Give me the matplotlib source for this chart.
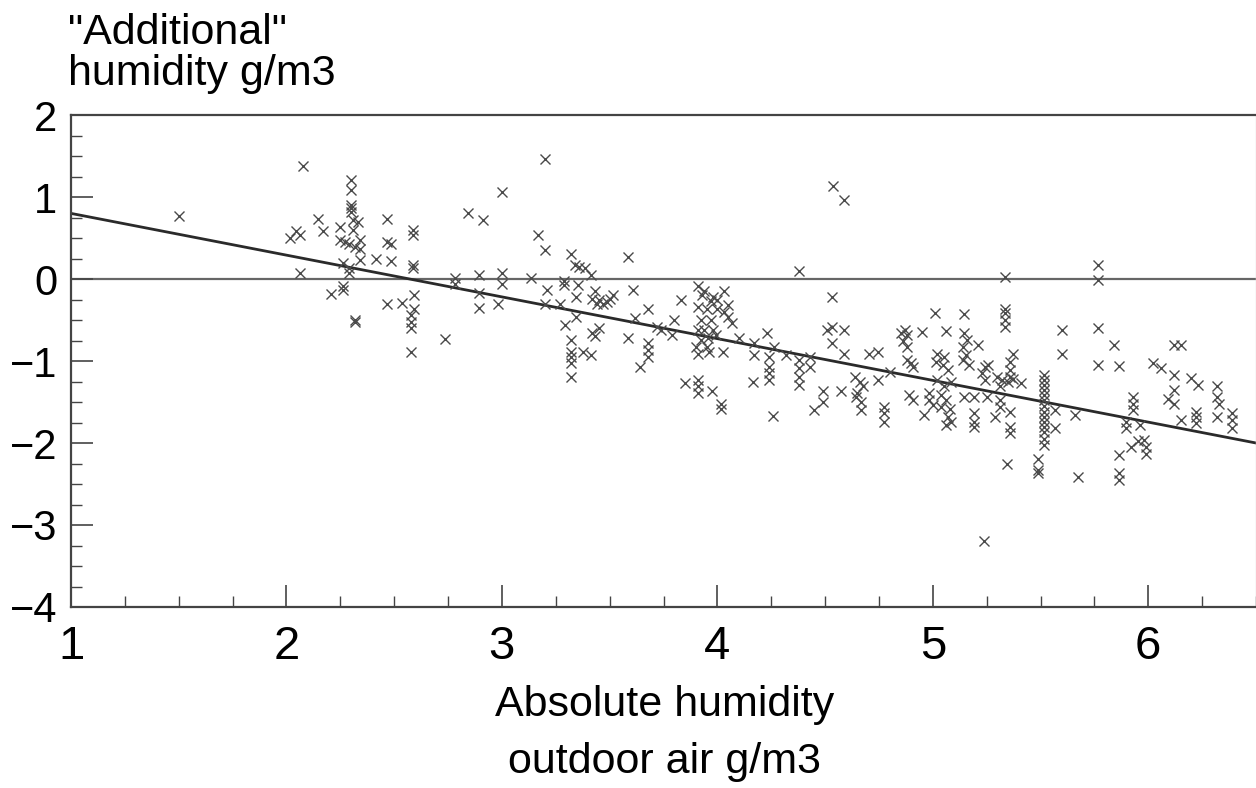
import matplotlib
matplotlib.use("Agg")
import matplotlib.pyplot as plt
from matplotlib.ticker import MultipleLocator

plt.rcParams['font.family'] = ['Liberation Sans', 'DejaVu Sans']

# ---- data ----
points = [
    # x < 3.3
    (1.50, 0.77),
    (2.015, 0.50), (2.046, 0.58), (2.061, 0.54), (2.061, 0.07), (2.077, 1.38),
    (2.146, 0.73), (2.169, 0.59), (2.208, -0.18),
    (2.247, 0.63), (2.247, 0.48), (2.27, 0.45), (2.262, 0.19), (2.262, -0.09), (2.262, -0.13),
    (2.30, 1.21), (2.30, 1.09), (2.30, 0.90), (2.30, 0.86), (2.30, 0.82),
    (2.31, 0.72), (2.33, 0.70), (2.31, 0.60),
    (2.29, 0.43), (2.32, 0.39), (2.34, 0.48), (2.34, 0.37), (2.34, 0.23),
    (2.29, 0.13), (2.29, 0.07), (2.319, -0.50), (2.319, -0.53),
    (2.417, 0.24), (2.468, 0.73), (2.468, 0.45), (2.486, 0.43), (2.486, 0.22),
    (2.468, -0.30), (2.536, -0.29),
    (2.587, 0.60), (2.587, 0.54), (2.587, 0.17), (2.587, 0.13), (2.59, -0.20),
    (2.59, -0.36), (2.58, -0.44), (2.58, -0.52), (2.58, -0.60), (2.58, -0.89),
    (2.734, -0.73), (2.783, 0.01), (2.783, -0.06),
    (2.842, 0.81), (2.912, 0.72), (2.892, 0.05), (2.892, -0.17), (2.892, -0.35),
    (3.00, 1.06), (3.00, 0.07), (3.00, -0.06), (2.98, -0.30),
    (3.136, 0.01), (3.198, 1.46), (3.167, 0.54), (3.198, 0.35), (3.21, -0.14),
    (3.198, -0.30), (3.268, -0.30), (3.29, -0.03), (3.294, -0.56),
    # 3.3 .. 4.7
    (3.32, 0.31), (3.337, 0.17), (3.36, 0.15), (3.384, 0.13), (3.415, 0.05),
    (3.29, -0.07), (3.353, -0.07), (3.345, -0.22),
    (3.43, -0.15), (3.42, -0.24), (3.45, -0.26), (3.44, -0.30), (3.47, -0.30),
    (3.50, -0.24), (3.515, -0.20), (3.49, -0.28),
    (3.585, 0.27), (3.608, -0.13), (3.678, -0.36), (3.616, -0.48), (3.585, -0.72),
    (3.345, -0.46),
    (3.32, -0.74), (3.32, -0.89), (3.32, -0.95), (3.32, -1.03), (3.32, -1.19),
    (3.376, -0.89), (3.415, -0.93), (3.42, -0.66), (3.43, -0.70), (3.45, -0.60),
    (3.678, -0.78), (3.678, -0.87), (3.678, -0.95), (3.64, -1.07),
    (3.72, -0.58), (3.74, -0.62), (3.80, -0.50), (3.79, -0.68), (3.83, -0.26),
    (3.91, -0.09), (3.94, -0.15), (3.98, -0.22), (4.00, -0.26), (4.03, -0.15),
    (3.91, -0.34), (3.95, -0.36), (4.00, -0.36), (4.03, -0.40), (4.05, -0.46),
    (3.925, -0.50), (3.97, -0.50), (3.91, -0.62), (3.94, -0.62), (3.98, -0.62),
    (3.925, -0.74), (3.956, -0.72), (3.995, -0.68), (3.90, -0.83), (3.95, -0.83),
    (3.91, -0.91), (3.96, -0.89), (4.025, -0.89), (4.07, -0.54),
    (3.93, -0.20), (3.97, -0.27), (4.05, -0.32),
    (3.85, -1.27), (3.91, -1.23), (3.91, -1.31), (3.91, -1.39), (3.975, -1.36),
    (4.015, -1.53), (4.015, -1.58),
    (4.10, -0.72), (4.17, -0.78), (4.17, -0.93), (4.165, -1.25),
    (4.23, -0.66), (4.24, -0.95), (4.24, -1.07), (4.24, -1.15), (4.24, -1.23),
    (4.265, -0.83), (4.26, -1.67),
    (4.32, -0.93), (4.38, -0.99), (4.38, -1.09), (4.38, -1.19), (4.38, -1.29), (4.38, 0.10),
    (4.43, -0.95), (4.43, -1.07), (4.45, -1.60), (4.49, -1.37), (4.49, -1.50),
    (4.535, 1.13), (4.59, 0.96),
    (4.53, -0.22), (4.51, -0.62), (4.53, -0.58), (4.53, -0.78), (4.59, -0.62),
    (4.59, -0.91), (4.574, -1.37),
    # 4.6 .. 5.8
    (4.64, -1.19), (4.66, -1.25), (4.675, -1.31), (4.645, -1.44), (4.667, -1.50),
    (4.667, -1.60), (4.65, -1.39),
    (4.705, -0.91), (4.745, -0.89), (4.745, -1.23), (4.80, -1.13),
    (4.775, -1.56), (4.775, -1.64), (4.775, -1.74),
    (4.85, -0.66), (4.88, -0.68), (4.86, -0.76), (4.88, -0.83), (4.87, -0.62),
    (4.88, -0.99), (4.90, -1.03), (4.91, -1.07),
    (4.95, -0.65), (5.008, -0.41), (5.06, -0.64),
    (4.89, -1.41), (4.91, -1.48), (4.98, -1.39), (4.98, -1.48), (5.00, -1.54), (4.96, -1.66),
    (5.02, -0.91), (5.05, -0.95), (5.015, -1.01), (5.046, -1.05), (5.07, -1.11),
    (5.02, -1.23), (5.05, -1.31), (5.04, -1.41), (5.06, -1.48), (5.04, -1.56),
    (5.08, -1.58), (5.07, -1.68), (5.085, -1.74), (5.06, -1.78), (5.085, -1.25),
    (5.144, -0.43), (5.147, -0.66), (5.16, -0.74), (5.14, -0.83), (5.21, -0.80),
    (5.155, -0.93), (5.14, -0.99), (5.17, -1.05),
    (5.147, -1.44), (5.19, -1.44), (5.19, -1.64), (5.19, -1.74), (5.19, -1.80),
    (5.24, -1.07), (5.23, -1.15), (5.255, -1.05), (5.24, -1.23), (5.25, -1.44),
    (5.237, -3.19),
    (5.30, -1.19), (5.32, -1.23), (5.31, -1.31), (5.31, -1.48), (5.31, -1.56), (5.29, -1.68),
    (5.333, 0.03), (5.333, -0.36), (5.333, -0.42), (5.333, -0.50), (5.333, -0.58),
    (5.37, -0.91), (5.36, -1.01), (5.36, -1.11), (5.356, -1.19), (5.35, -1.25),
    (5.37, -1.22), (5.41, -1.27),
    (5.36, -1.62), (5.36, -1.80), (5.36, -1.88), (5.345, -2.25),
    (5.515, -1.17), (5.515, -1.23), (5.515, -1.29), (5.515, -1.35), (5.515, -1.42),
    (5.515, -1.48), (5.515, -1.55), (5.515, -1.62), (5.515, -1.68), (5.515, -1.74),
    (5.515, -1.80), (5.515, -1.87), (5.515, -1.95), (5.515, -2.02),
    (5.49, -2.19), (5.49, -2.33), (5.49, -2.37),
    (5.565, -1.60), (5.565, -1.82), (5.66, -1.66), (5.675, -2.41),
    (5.60, -0.62), (5.60, -0.91),
    (5.766, 0.17), (5.766, -0.01), (5.766, -0.60), (5.766, -1.05),
    # > 5.8
    (5.84, -0.80), (5.866, -1.06), (6.02, -1.03), (6.06, -1.09), (6.12, -0.80), (6.15, -0.80),
    (6.12, -1.17), (6.12, -1.35), (6.09, -1.46), (6.12, -1.52),
    (6.20, -1.21), (6.23, -1.29),
    (6.32, -1.31), (6.32, -1.44), (6.33, -1.52), (6.32, -1.68),
    (6.39, -1.64), (6.39, -1.72), (6.39, -1.82),
    (6.15, -1.72), (6.22, -1.62), (6.22, -1.68), (6.22, -1.76),
    (5.93, -1.44), (5.93, -1.52), (5.93, -1.60),
    (5.897, -1.74), (5.897, -1.82), (5.96, -1.78),
    (5.92, -2.05), (5.95, -1.98), (5.98, -1.96), (5.99, -2.05), (5.99, -2.13),
    (5.866, -2.15), (5.866, -2.37), (5.866, -2.45),
]
outdoor_humidity = [p[0] for p in points]
additional_humidity = [p[1] for p in points]

fit_x = [1.0, 6.5]
fit_y = [0.80, -2.00]

x_ticks = [1, 2, 3, 4, 5, 6]
y_ticks = [-4, -3, -2, -1, 0, 1, 2]
y_tick_labels = ['\u22124', '\u22123', '\u22122', '\u22121', '0', '1', '2']
y_label_lines = ['"Additional"', 'humidity g/m3']
x_label_lines = ['Absolute humidity', 'outdoor air g/m3']

# ---- figure ----
W, H = 1256, 788
fig = plt.figure(figsize=(W / 100, H / 100), dpi=100)
ax = fig.add_axes([71 / W, (H - 607) / H, (W - 71) / W, (607 - 115) / H])

ax.set_xlim(1, 6.5)
ax.set_ylim(-4, 2)

ax.axhline(0, color='#666666', lw=1.6, zorder=1)
ax.plot(fit_x, fit_y, color='#2a2a2a', lw=2.0, zorder=2)
ax.plot(outdoor_humidity, additional_humidity, linestyle='none', marker='x',
        markersize=7.5, markeredgewidth=1.0, color='#4a4a4a', zorder=3)

for side in ['left', 'bottom', 'top']:
    ax.spines[side].set_color('#444444')
    ax.spines[side].set_linewidth(1.6)
ax.spines['right'].set_color('#dddddd')
ax.spines['right'].set_linewidth(1.0)

ax.set_xticks(x_ticks)
ax.set_yticks(y_ticks)
ax.set_yticklabels(y_tick_labels)
ax.xaxis.set_minor_locator(MultipleLocator(0.25))
ax.yaxis.set_minor_locator(MultipleLocator(0.25))
ax.tick_params(axis='both', which='major', direction='in', length=16, width=1.2,
               color='#444444')
ax.tick_params(axis='both', which='minor', direction='in', length=8, width=1.0,
               color='#444444')
ax.tick_params(axis='x', which='both', top=False, pad=13, labelsize=34)
ax.tick_params(axis='y', which='both', right=False, pad=10, labelsize=30)

# axis titles (placed in pixel coordinates of the figure)
fig.text(68 / W, 1 - 44 / H, y_label_lines[0], fontsize=31, ha='left', va='baseline')
fig.text(68 / W, 1 - 85 / H, y_label_lines[1], fontsize=31, ha='left', va='baseline')
fig.text(665 / W, 1 - 716 / H, x_label_lines[0], fontsize=31, ha='center', va='baseline')
fig.text(665 / W, 1 - 773 / H, x_label_lines[1], fontsize=31, ha='center', va='baseline')

fig.savefig('out.png', dpi=100)
